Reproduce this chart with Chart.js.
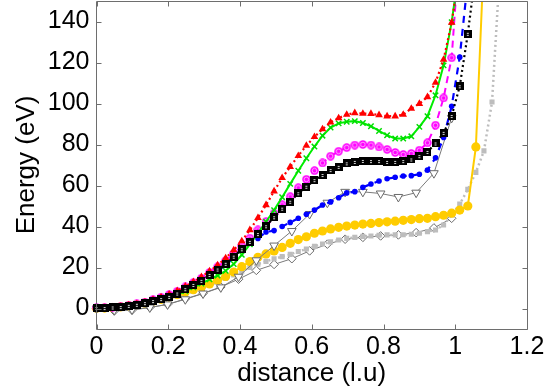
<!DOCTYPE html>
<html>
<head>
<meta charset="utf-8">
<script src="https://cdn.jsdelivr.net/npm/chart.js@4.4.1/dist/chart.umd.min.js"></script>
<style>
  html, body { margin: 0; padding: 0; background: #ffffff; }
  #wrap { width: 557px; height: 389px; }
</style>
</head>
<body>
<div id="wrap"><canvas id="c" width="557" height="389"></canvas></div>
<script>
// Reaction coordinate grids (fine path and coarse path)
const distance = [0, 0.0225, 0.045, 0.0675, 0.09, 0.1125, 0.135, 0.1575, 0.18, 0.2025,
  0.225, 0.2475, 0.27, 0.2925, 0.315, 0.3375, 0.36, 0.3825, 0.405, 0.4275,
  0.45, 0.4725, 0.495, 0.5175, 0.54, 0.5625, 0.585, 0.6075, 0.63, 0.6525,
  0.675, 0.6975, 0.72, 0.7425, 0.765, 0.7875, 0.81, 0.8325, 0.855, 0.8775,
  0.9, 0.9225, 0.945, 0.9675, 0.99, 1.0125, 1.035, 1.0575, 1.08, 1.1025, 1.125];
const distanceCoarse = [0, 0.0495, 0.099, 0.1485, 0.198, 0.2475, 0.297, 0.3465, 0.396, 0.4455,
  0.495, 0.5445, 0.594, 0.6435, 0.693, 0.7425, 0.792, 0.8415, 0.891, 0.9405, 0.99];

const xTicks = [0, 0.2, 0.4, 0.6, 0.8, 1, 1.2];
const yTicks = [0, 20, 40, 60, 80, 100, 120, 140];

// Energy profiles (eV)
const redTriangles = [0.3, 0.3, 0.6, 0.9, 1.6, 2.2, 3.1, 4.3, 5.5, 6.9,
  8.6, 10.8, 13.0, 15.4, 18.2, 21.2, 24.6, 28.5, 32.9, 38.3,
  44.2, 50.5, 57.2, 63.7, 69.1, 74.5, 79.5, 83.7, 87.5, 90.8,
  92.9, 94.6, 95.4, 95.1, 95.0, 94.4, 93.8, 93.8, 94.6, 97.5,
  99.9, 103.2, 110.2, 121.4, 139.5, 165];
const greenCrosses = [0.2, 0.2, 0.4, 0.7, 1.2, 1.7, 2.4, 3.3, 4.3, 5.4,
  6.8, 8.5, 10.3, 12.2, 14.2, 16.1, 18.4, 21.7, 26.2, 31.3,
  36.8, 42.3, 48.0, 54.3, 60.8, 67.2, 73.3, 79.0, 84.3, 88.3,
  90.3, 91.1, 91.4, 90.5, 88.9, 86.6, 84.5, 82.9, 82.9, 84.0,
  88.6, 93.8, 104.0, 118.6, 139.7, 168];
const magentaRings = [0.3, 0.3, 0.6, 0.9, 1.6, 2.2, 3.1, 4.3, 5.5, 6.8,
  8.4, 10.5, 12.6, 14.8, 17.6, 20.3, 23.3, 26.8, 30.5, 34.3,
  38.3, 42.4, 46.5, 50.6, 54.5, 58.9, 63.0, 67.2, 71.0, 74.3,
  76.7, 78.5, 79.7, 80.0, 79.7, 78.8, 77.6, 76.1, 75.1, 75.6,
  77.2, 80.8, 89.4, 102.7, 122.3, 178];
const blackSquares = [0.2, 0.2, 0.5, 0.7, 1.3, 1.8, 2.6, 3.6, 4.6, 5.7,
  7.3, 9.4, 11.5, 13.5, 16.4, 19.0, 21.8, 25.3, 28.9, 32.5,
  36.3, 40.1, 44.5, 48.7, 52.1, 56.2, 59.4, 62.6, 65.1, 67.5,
  69.1, 70.8, 71.5, 72.0, 71.9, 71.9, 71.5, 71.5, 71.9, 72.7,
  74.3, 76.4, 80.5, 85.7, 93.9, 108.4, 134.0, 165];
const blueDots = [0.2, 0.2, 0.4, 0.7, 1.2, 1.7, 2.5, 3.4, 4.4, 5.5,
  7.0, 8.9, 10.9, 13.0, 15.5, 18.2, 21.2, 24.6, 29.5, 32.8,
  34.2, 37.3, 38.0, 40.0, 42.0, 44.0, 46.0, 48.0, 50.5, 52.0,
  54.0, 56.4, 57.0, 59.1, 60.7, 62.2, 63.3, 64.0, 64.6, 64.8,
  65.5, 67.5, 73.5, 83.4, 98.6, 122.6, 160];
const goldDots = [0.1, 0.2, 0.4, 0.8, 1.3, 1.9, 2.6, 3.5, 4.5, 5.6,
  6.8, 8.0, 9.2, 10.5, 12.0, 13.8, 15.6, 17.8, 20.4, 22.9,
  25.0, 26.6, 28.1, 29.8, 31.8, 33.6, 35.0, 36.7, 37.8, 38.8,
  39.6, 40.2, 40.7, 41.2, 41.5, 41.9, 42.3, 42.6, 43.0, 43.4,
  43.8, 44.0, 44.8, 45.5, 46.5, 48.0, 50.0, 78.8, 172];
const graySquares = [0.1, 0.1, 0.3, 0.6, 1.0, 1.5, 2.1, 2.9, 3.8, 4.8,
  5.9, 7.1, 8.4, 9.8, 11.3, 12.9, 14.6, 16.4, 18.2, 20.0,
  21.6, 23.0, 24.2, 25.3, 26.4, 27.8, 29.0, 30.3, 31.5, 32.5,
  33.4, 34.2, 34.7, 35.2, 35.4, 35.7, 35.9, 35.9, 36.0, 36.2,
  36.7, 37.5, 38.3, 40.7, 45.6, 50.9, 58.1, 66.4, 76.9, 100.7, 167];
const openTriangles = [0, -0.8, -0.5, 0.5, 2.0, 4.5, 7.3, 10.3, 15.5, 23.5,
  30.7, 37.8, 46.1, 51.6, 56.9, 56.9, 56.1, 54.4, 56.5, 66.0, 93];
const openDiamonds = [0, -1.2, -0.8, 0.5, 2.0, 4.7, 7.4, 10.5, 14.3, 18.6,
  21.5, 24.3, 28.1, 31.4, 33.8, 34.7, 35.4, 35.9, 37.0, 39.3, 44.0];

function pairUp(xs, ys) {
  return ys.map((v, i) => ({ x: xs[i], y: v }));
}

// Marker sprites
function squareMarker() {
  const c = document.createElement('canvas');
  c.width = 8; c.height = 8;
  const g = c.getContext('2d');
  g.fillStyle = '#000000';
  g.fillRect(0, 0, 8, 8);
  g.fillStyle = '#d8d8d8';
  g.fillRect(3, 3, 2, 1);
  g.fillRect(3, 5, 2, 1);
  return c;
}
function ringMarker() {
  const c = document.createElement('canvas');
  c.width = 9; c.height = 9;
  const g = c.getContext('2d');
  g.fillStyle = '#ff00ff';
  g.beginPath(); g.arc(4.5, 4.5, 4.2, 0, Math.PI * 2); g.fill();
  g.strokeStyle = '#ffa8ff';
  g.lineWidth = 1;
  g.beginPath(); g.arc(4.5, 4.5, 2.3, 0, Math.PI * 2); g.stroke();
  return c;
}

const FONT = "'Liberation Sans', Arial, sans-serif";
const AXIS_GRAY = '#6e6e6e';

// Box frame with inward tick marks on all four sides
const framePlugin = {
  id: 'frame',
  afterDatasetsDraw(chart) {
    const { ctx, chartArea: a, scales: { x, y } } = chart;
    const L = Math.floor(a.left) + 0.5, R = Math.floor(a.right) + 0.5;
    const T = Math.floor(a.top) + 0.5, B = Math.floor(a.bottom) + 0.5;
    const len = 5;
    ctx.save();
    ctx.strokeStyle = AXIS_GRAY;
    ctx.lineWidth = 1;
    ctx.beginPath();
    ctx.rect(L, T, R - L, B - T);
    xTicks.forEach(v => {
      const px = Math.round(x.getPixelForValue(v)) + 0.5;
      ctx.moveTo(px, B); ctx.lineTo(px, B - len);
      ctx.moveTo(px, T); ctx.lineTo(px, T + len);
    });
    yTicks.forEach(v => {
      const py = Math.round(y.getPixelForValue(v)) + 0.5;
      ctx.moveTo(L, py); ctx.lineTo(L + len, py);
      ctx.moveTo(R, py); ctx.lineTo(R - len, py);
    });
    ctx.stroke();
    ctx.restore();
  }
};

const edgeClip = { left: 10, top: 0, right: 0, bottom: 10 };

new Chart(document.getElementById('c'), {
  type: 'scatter',
  data: {
    datasets: [
      {
        data: pairUp(distance, blackSquares), order: 1, showLine: true,
        borderColor: '#000000', borderWidth: 2.2, borderDash: [2, 3],
        pointStyle: squareMarker(), pointRadius: 4, clip: edgeClip
      },
      {
        data: pairUp(distance, redTriangles), order: 2, showLine: true,
        borderColor: '#ff0000', borderWidth: 2.2, borderDash: [2, 3],
        pointStyle: 'triangle', pointRadius: 4.4,
        pointBackgroundColor: '#ff0000', pointBorderColor: '#ff0000', pointBorderWidth: 0,
        clip: edgeClip
      },
      {
        data: pairUp(distance, greenCrosses), order: 3, showLine: true,
        borderColor: '#00ee00', borderWidth: 2,
        pointStyle: 'crossRot', pointRadius: 3.8,
        pointBorderColor: '#00dd00', pointBorderWidth: 1.5, clip: edgeClip
      },
      {
        data: pairUp(distance, magentaRings), order: 4, showLine: true,
        borderColor: '#ff00ff', borderWidth: 2, borderDash: [7, 5],
        pointStyle: ringMarker(), pointRadius: 4, clip: edgeClip
      },
      {
        data: pairUp(distance, blueDots), order: 5, showLine: true,
        borderColor: '#0000ff', borderWidth: 2.2, borderDash: [7, 6],
        pointStyle: 'circle', pointRadius: 2.8,
        pointBackgroundColor: '#0000ff', pointBorderColor: '#0000ff', pointBorderWidth: 0,
        clip: edgeClip
      },
      {
        data: pairUp(distanceCoarse, openTriangles), order: 6, showLine: true,
        borderColor: '#7a7a7a', borderWidth: 1,
        pointStyle: 'triangle', pointRotation: 180, pointRadius: 5,
        pointBackgroundColor: '#ffffff', pointBorderColor: '#6a6a6a', pointBorderWidth: 1,
        clip: edgeClip
      },
      {
        data: pairUp(distance, goldDots), order: 7, showLine: true,
        borderColor: '#ffcc00', borderWidth: 2,
        pointStyle: 'circle', pointRadius: 4.6,
        pointBackgroundColor: '#ffcc00', pointBorderColor: '#ffcc00', pointBorderWidth: 0,
        clip: edgeClip
      },
      {
        data: pairUp(distance, graySquares), order: 8, showLine: true,
        borderColor: '#bdbdbd', borderWidth: 2.5, borderDash: [2, 3],
        pointStyle: 'rect', pointRadius: 3.6,
        pointBackgroundColor: '#bdbdbd', pointBorderColor: '#bdbdbd', pointBorderWidth: 0,
        clip: edgeClip
      },
      {
        data: pairUp(distanceCoarse, openDiamonds), order: 9, showLine: true,
        borderColor: '#7a7a7a', borderWidth: 1,
        pointStyle: 'rectRot', pointRadius: 4.3,
        pointBackgroundColor: '#ffffff', pointBorderColor: '#6a6a6a', pointBorderWidth: 1,
        clip: edgeClip
      }
    ]
  },
  options: {
    responsive: false,
    animation: false,
    devicePixelRatio: 1,
    layout: { autoPadding: false, padding: { top: 1, right: 30, bottom: 0, left: 0 } },
    plugins: { legend: { display: false }, tooltip: { enabled: false } },
    elements: { line: { tension: 0, fill: false } },
    scales: {
      x: {
        type: 'linear', min: 0, max: 1.2,
        grid: { display: false, drawTicks: false },
        border: { display: false },
        afterBuildTicks: s => { s.ticks = xTicks.map(v => ({ value: v })); },
        afterFit: s => { s.height = 60; s.paddingLeft = 0; s.paddingRight = 0; },
        ticks: {
          padding: 3, color: '#000000', maxRotation: 0,
          font: { family: FONT, size: 25 },
          callback: v => String(v)
        },
        title: {
          display: true, text: 'distance (l.u)', color: '#000000',
          font: { family: FONT, size: 26 }, padding: { top: 0, bottom: 0 }
        }
      },
      y: {
        type: 'linear', min: -10, max: 150,
        grid: { display: false, drawTicks: false },
        border: { display: false },
        afterBuildTicks: s => { s.ticks = yTicks.map(v => ({ value: v })); },
        afterFit: s => { s.width = 96.5; s.paddingTop = 0; s.paddingBottom = 0; },
        ticks: {
          padding: 7, color: '#000000',
          font: { family: FONT, size: 25 },
          callback: v => String(v)
        },
        title: {
          display: true, text: 'Energy (eV)', color: '#000000',
          font: { family: FONT, size: 26 }, padding: { top: 11, bottom: 0 }
        }
      }
    }
  },
  plugins: [framePlugin]
});
</script>
</body>
</html>
